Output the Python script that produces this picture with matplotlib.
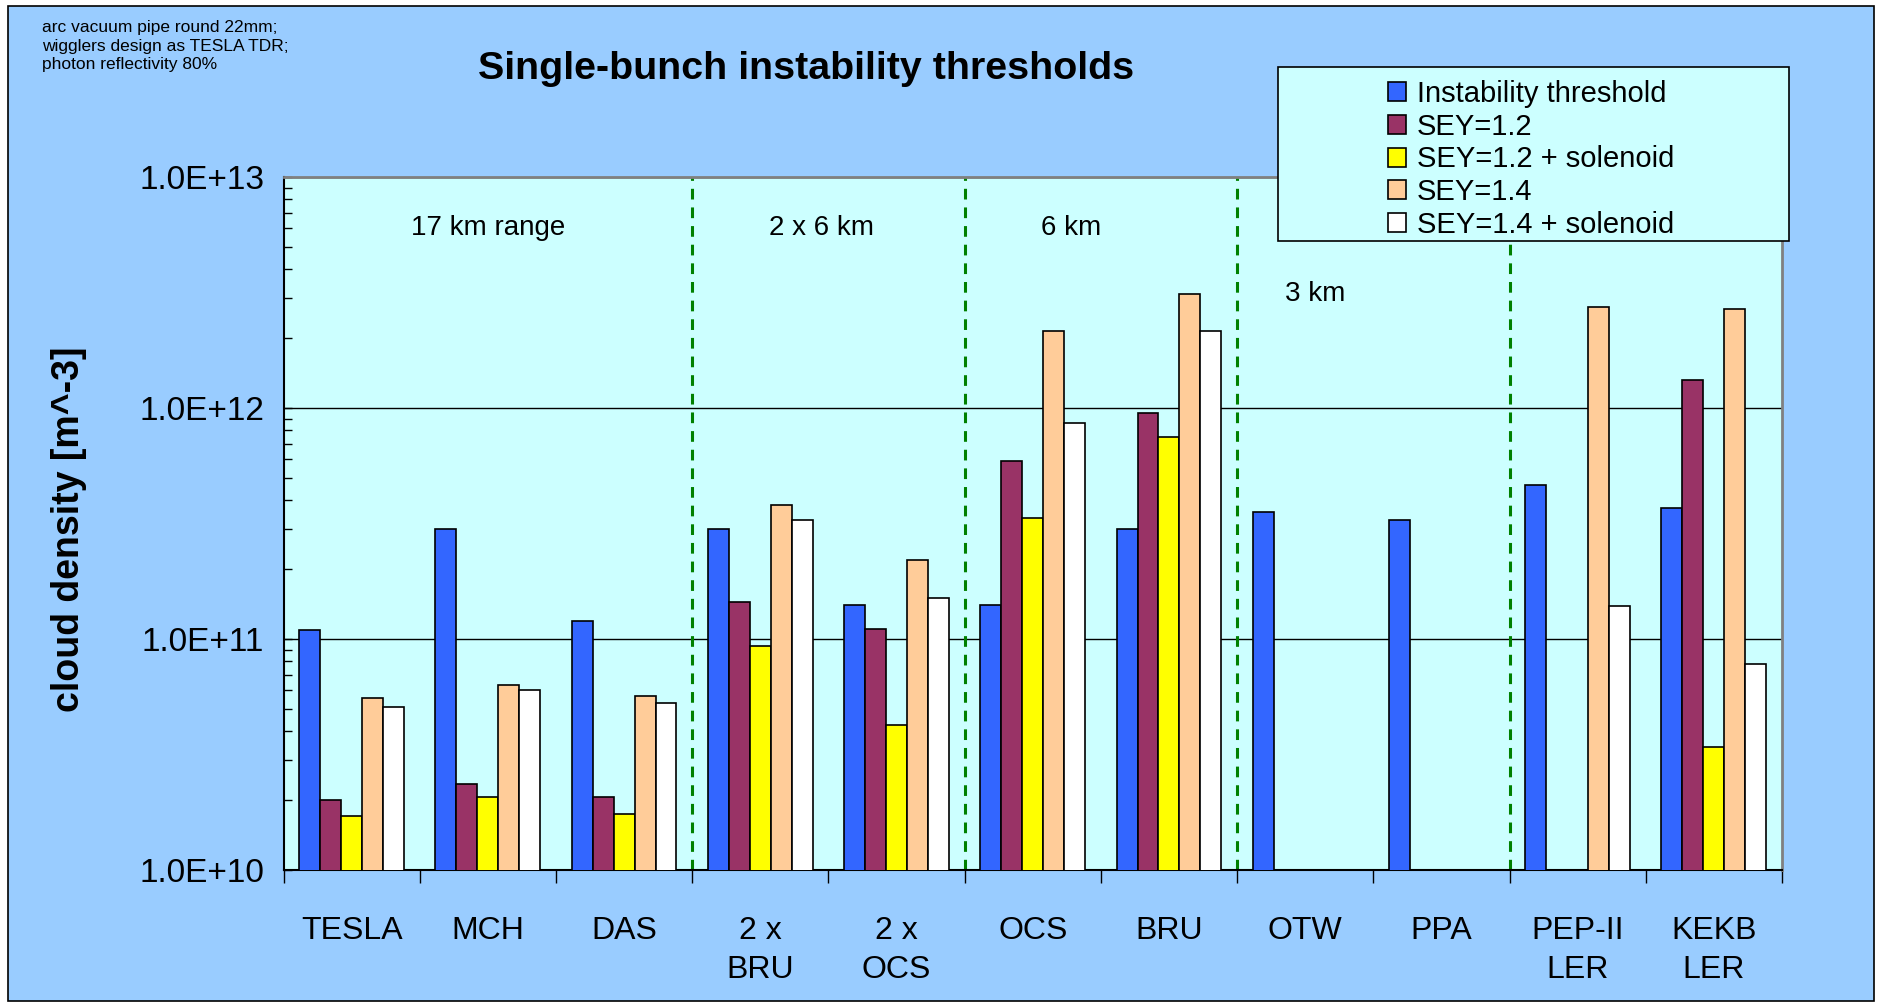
import numpy as np
import matplotlib
matplotlib.use("Agg")
import matplotlib.pyplot as plt
from matplotlib.patches import Rectangle, Patch
from matplotlib.ticker import FixedLocator, NullFormatter, FuncFormatter, LogLocator
from matplotlib.transforms import blended_transform_factory

# ---- data -------------------------------------------------------------
machines = ["TESLA", "MCH", "DAS", "2 x\nBRU", "2 x\nOCS", "OCS", "BRU",
            "OTW", "PPA", "PEP-II\nLER", "KEKB\nLER"]
nan = np.nan
threshold = [1.09e11, 3.0e11, 1.2e11, 3.0e11, 1.41e11, 1.41e11, 3.0e11,
             3.53e11, 3.29e11, 4.66e11, 3.68e11]
sey12 = [2.0e10, 2.35e10, 2.06e10, 1.44e11, 1.10e11, 5.9e11, 9.5e11,
         nan, nan, nan, 1.32e12]
sey12_sol = [1.72e10, 2.07e10, 1.75e10, 9.3e10, 4.23e10, 3.33e11, 7.5e11,
             nan, nan, nan, 3.4e10]
sey14 = [5.57e10, 6.32e10, 5.66e10, 3.8e11, 2.2e11, 2.16e12, 3.11e12,
         nan, nan, 2.74e12, 2.69e12]
sey14_sol = [5.07e10, 5.99e10, 5.26e10, 3.28e11, 1.50e11, 8.65e11, 2.16e12,
             nan, nan, 1.39e11, 7.76e10]
series_labels = ["Instability threshold", "SEY=1.2", "SEY=1.2 + solenoid",
                 "SEY=1.4", "SEY=1.4 + solenoid"]
region_labels = ["17 km range", "2 x 6 km", "6 km", "3 km"]
y_tick_values = [1e10, 1e11, 1e12, 1e13]
y_tick_labels = ["1.0E+10", "1.0E+11", "1.0E+12", "1.0E+13"]

# ---- style ------------------------------------------------------------
series = [threshold, sey12, sey12_sol, sey14, sey14_sol]
colors = ["#3366FF", "#993366", "#FFFF00", "#FFCC99", "#FFFFFF"]
fig_bg = "#99CCFF"
plot_bg = "#CCFFFF"
plt.rcParams["font.family"] = ["Liberation Sans", "DejaVu Sans"]

W, H = 1881, 1005
fig = plt.figure(figsize=(W / 100, H / 100), dpi=100, facecolor="white")

# framed chart background
fig.patches.append(Rectangle((8 / W, 4 / H), 1866 / W, 995 / H,
                             transform=fig.transFigure, facecolor=fig_bg,
                             edgecolor="black", linewidth=1.2, zorder=-5))

ax = fig.add_axes([283.5 / W, 1 - 870 / H, (1782 - 283.5) / W, (870 - 177) / H])
ax.set_zorder(1)
ax.set_facecolor(plot_bg)
ax.set_yscale("log")
ax.set_ylim(1e10, 1e13)
n = len(machines)
ax.set_xlim(-0.5, n - 0.5)

x = np.arange(n)
bw = 1 / 6.5
for i, (vals, c, lab) in enumerate(zip(series, colors, series_labels)):
    ax.bar(x + (i - 2) * bw, vals, width=bw, color=c, edgecolor="black",
           linewidth=1.2, label=lab, zorder=3)

# gridlines at decades
ax.yaxis.set_major_locator(FixedLocator(y_tick_values))
ax.yaxis.set_major_formatter(FuncFormatter(
    lambda v, p: y_tick_labels[y_tick_values.index(v)] if v in y_tick_values else ""))
ax.yaxis.set_minor_locator(LogLocator(base=10, subs=np.arange(2, 10)))
ax.yaxis.set_minor_formatter(NullFormatter())
ax.grid(axis="y", which="major", color="black", linewidth=1.0, zorder=1)
ax.set_axisbelow(True)
ax.tick_params(axis="y", which="both", direction="in", length=6, width=1,
               labelsize=24, pad=14)

# category ticks between groups, labels at centres
ax.xaxis.set_major_locator(FixedLocator(np.arange(n + 1) - 0.5))
ax.xaxis.set_major_formatter(NullFormatter())
ax.xaxis.set_minor_locator(FixedLocator(x))
ax.set_xticklabels(machines, minor=True)
ax.tick_params(axis="x", which="major", direction="out", length=9, width=1)
ax.tick_params(axis="x", which="minor", length=0, pad=33)
for t in ax.get_xticklabels(minor=True):
    t.set_fontsize(23)
    t.set_linespacing(1.4)
    t.set_verticalalignment("top")

for s in ("left", "bottom"):
    ax.spines[s].set_color("black")
    ax.spines[s].set_linewidth(1.5)
for s in ("top", "right"):
    ax.spines[s].set_color("#808080")
    ax.spines[s].set_linewidth(2)

# region separators
for xe in [2.5, 4.5, 6.5, 8.5]:
    ax.axvline(xe, color="#008000", linewidth=2.2, linestyle=(0, (3.5, 2.6)),
               zorder=2)

tr = blended_transform_factory(ax.transData, ax.transAxes)
for lab, xr, yr in zip(region_labels, [1.0, 3.45, 5.28, 7.07],
                       [0.926, 0.926, 0.926, 0.831]):
    ax.text(xr, yr, lab, transform=tr, ha="center", va="center", fontsize=20)

ax.set_ylabel("cloud density [m^-3]", fontsize=27, fontweight="bold")
ax.yaxis.set_label_coords(87 / W, 1 - 529 / H, transform=fig.transFigure)

fig.text(806 / W, 1 - 69 / H, "Single-bunch instability thresholds",
         ha="center", va="center", fontsize=28.4, fontweight="bold")

fig.text(42 / W, 1 - 46 / H,
         "arc vacuum pipe round 22mm;\nwigglers design as TESLA TDR;\nphoton reflectivity 80%",
         ha="left", va="center", fontsize=12.5, linespacing=1.3)

# legend box
fig.patches.append(Rectangle((1278 / W, 1 - 241 / H), 511 / W, 174 / H,
                             transform=fig.transFigure, facecolor=plot_bg,
                             edgecolor="black", linewidth=1.2, zorder=5))
handles = [Patch(facecolor=c, edgecolor="black", linewidth=1.2) for c in colors]
leg = fig.legend(handles, series_labels, loc="upper left",
                 bbox_to_anchor=(1388 / W, 1 - 80 / H),
                 bbox_transform=fig.transFigure, frameon=False, fontsize=21,
                 handlelength=0.62, handleheight=0.62, handletextpad=0.38,
                 labelspacing=0.16, borderpad=0, borderaxespad=0)
leg.set_zorder(6)

fig.savefig("out.png", dpi=100, facecolor="white")
